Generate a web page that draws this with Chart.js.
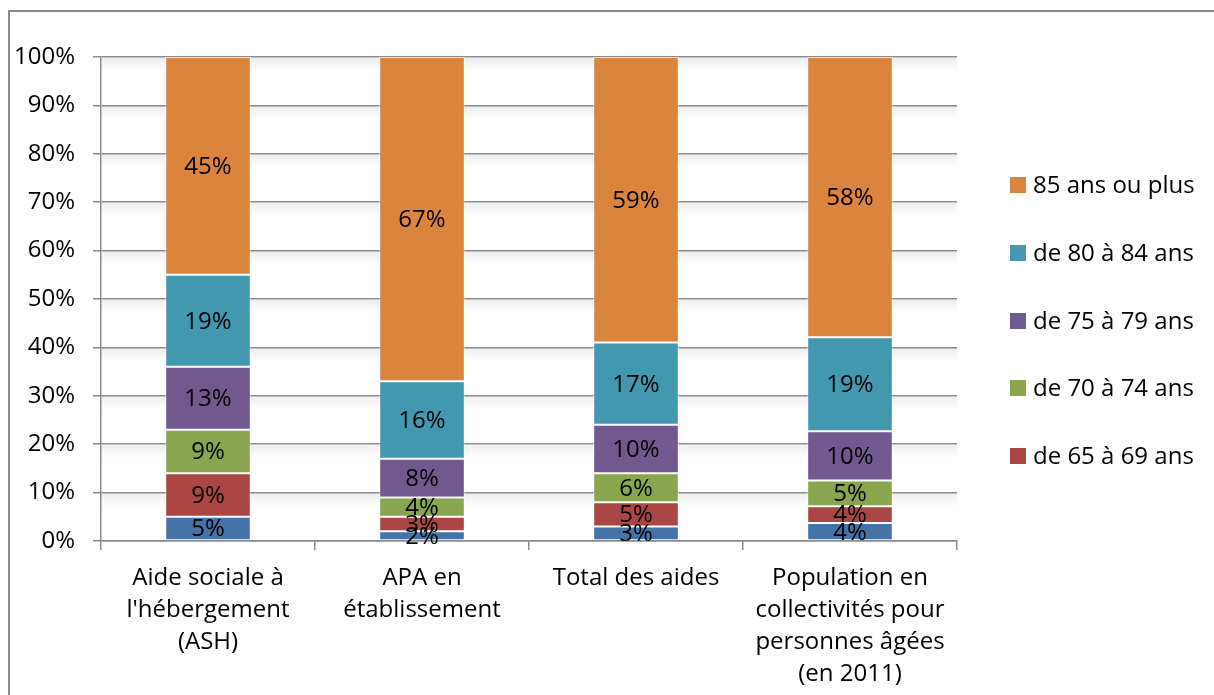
<!DOCTYPE html>
<html>
<head>
<meta charset="utf-8">
<script src="https://cdn.jsdelivr.net/npm/chart.js@4"></script>
<style>
  html, body { margin: 0; padding: 0; background: #fff; }
  body { width: 1214px; height: 695px; position: relative; overflow: hidden; font-family: "Open Sans", sans-serif; }
  #frame { position: absolute; left: 8px; top: 10px; width: 1230px; height: 720px; border: 2px solid #8a8a8a; box-sizing: border-box; }
  #wrap { position: absolute; left: 0; top: 0; width: 1214px; height: 695px; }
  #legend { position: absolute; left: 1010px; top: 0; }
  .item { position: absolute; left: 0; white-space: nowrap; font-size: 24px; color: #000; line-height: 24px; }
  .item span.box { position: absolute; left: 0; top: 4px; width: 16px; height: 16px; }
  .item span.txt { position: absolute; left: 23px; top: -1px; }
</style>
</head>
<body>
<div id="frame"></div>
<div id="wrap"><canvas id="myChart" width="1214" height="695"></canvas></div>
<div id="legend"></div>
<script>
// categories (x-axis labels, split in lines like the original)
var categories = [
    ["Aide sociale à", "l'hébergement", "(ASH)"],
    ["APA en", "établissement"],
    ["Total des aides"],
    ["Population en", "collectivités pour", "personnes âgées", "(en 2011)"]
];

// series, bottom to top (values in %)
var seriesNames = ["moins de 65 ans", "de 65 à 69 ans", "de 70 à 74 ans", "de 75 à 79 ans", "de 80 à 84 ans", "85 ans ou plus"];
var under65 = [5, 2, 3, 3.7];
var age65_69 = [9, 3, 5, 3.5];
var age70_74 = [9, 4, 6, 5.3];
var age75_79 = [13, 8, 10, 10.2];
var age80_84 = [19, 16, 17, 19.4];
var age85plus = [45, 67, 59, 57.9];
var seriesColors = ["#4572A7", "#AA4643", "#89A54E", "#71588F", "#4198AF", "#DB843D"];

var yTicks = [0, 10, 20, 30, 40, 50, 60, 70, 80, 90, 100];

var allSeries = [under65, age65_69, age70_74, age75_79, age80_84, age85plus];

var FONT = '"Open Sans", sans-serif';

// soft shadow under each horizontal gridline
var gridShadow = {
    id: 'gridShadow',
    beforeDatasetsDraw: function (chart) {
        var ctx = chart.ctx, y = chart.scales.y, area = chart.chartArea;
        ctx.save();
        yTicks.forEach(function (t) {
            if (t === 0) return;
            var py = y.getPixelForValue(t);
            var g = ctx.createLinearGradient(0, py + 1, 0, py + 14);
            g.addColorStop(0, 'rgba(0,0,0,0.07)');
            g.addColorStop(1, 'rgba(0,0,0,0)');
            ctx.fillStyle = g;
            ctx.fillRect(area.left + 1, py + 1, area.right - area.left - 1, 13);
        });
        ctx.restore();
    }
};

// value labels in the middle of each segment
var barLabels = {
    id: 'barLabels',
    afterDatasetsDraw: function (chart) {
        var ctx = chart.ctx;
        ctx.save();
        ctx.font = '24px ' + FONT;
        ctx.fillStyle = '#000';
        ctx.textAlign = 'center';
        ctx.textBaseline = 'middle';
        chart.data.datasets.forEach(function (ds, i) {
            chart.getDatasetMeta(i).data.forEach(function (bar, j) {
                var p = bar.getProps(['x', 'y', 'base'], true);
                ctx.fillText(Math.round(ds.data[j]) + '%', p.x, (p.y + p.base) / 2 + 1);
            });
        });
        ctx.restore();
    }
};

var datasets = allSeries.map(function (vals, i) {
    return {
        label: seriesNames[i],
        data: vals,
        backgroundColor: seriesColors[i],
        borderColor: 'rgba(255,255,255,0.55)',
        borderWidth: 1,
        borderSkipped: false,
        barPercentage: 0.4,
        categoryPercentage: 1.0
    };
});

var ctx = document.getElementById('myChart').getContext('2d');
var myChart = new Chart(ctx, {
    type: 'bar',
    data: { labels: categories, datasets: datasets },
    options: {
        responsive: false,
        animation: false,
        layout: { padding: { left: 0, top: 57, right: 257, bottom: 0 } },
        plugins: { legend: { display: false }, tooltip: { enabled: false } },
        scales: {
            x: {
                stacked: true,
                grid: { offset: true, drawOnChartArea: false, drawTicks: true, tickLength: 9, color: '#8a8a8a', lineWidth: 1.5 },
                border: { color: '#8a8a8a', width: 1.5 },
                ticks: { color: '#000', padding: 12, maxRotation: 0, autoSkip: false,
                    font: { family: FONT, size: 24, lineHeight: 1.33 } },
                afterFit: function (scale) { scale.height = 154; }
            },
            y: {
                stacked: true,
                min: 0, max: 100,
                afterBuildTicks: function (scale) { scale.ticks = yTicks.map(function (v) { return { value: v }; }); },
                grid: { color: '#8a8a8a', lineWidth: 1.5, tickLength: 8 },
                border: { color: '#8a8a8a', width: 1.5 },
                ticks: { color: '#000', padding: 18, callback: function (v) { return v + '%'; },
                    font: { family: FONT, size: 24 } },
                afterFit: function (scale) { scale.width = 101; }
            }
        }
    },
    plugins: [gridShadow, barLabels]
});

// legend: top to bottom, without the first series (as in the original)
var legend = document.getElementById('legend');
var legendTops = [185, 253, 321, 388, 456];
for (var k = 0; k < 5; k++) {
    var idx = seriesNames.length - 1 - k;
    var item = document.createElement('div');
    item.className = 'item';
    item.style.top = (legendTops[k] - 12) + 'px';
    item.innerHTML = '<span class="box" style="background:' + seriesColors[idx] + '"></span><span class="txt">' + seriesNames[idx] + '</span>';
    legend.appendChild(item);
}
</script>
</body>
</html>
